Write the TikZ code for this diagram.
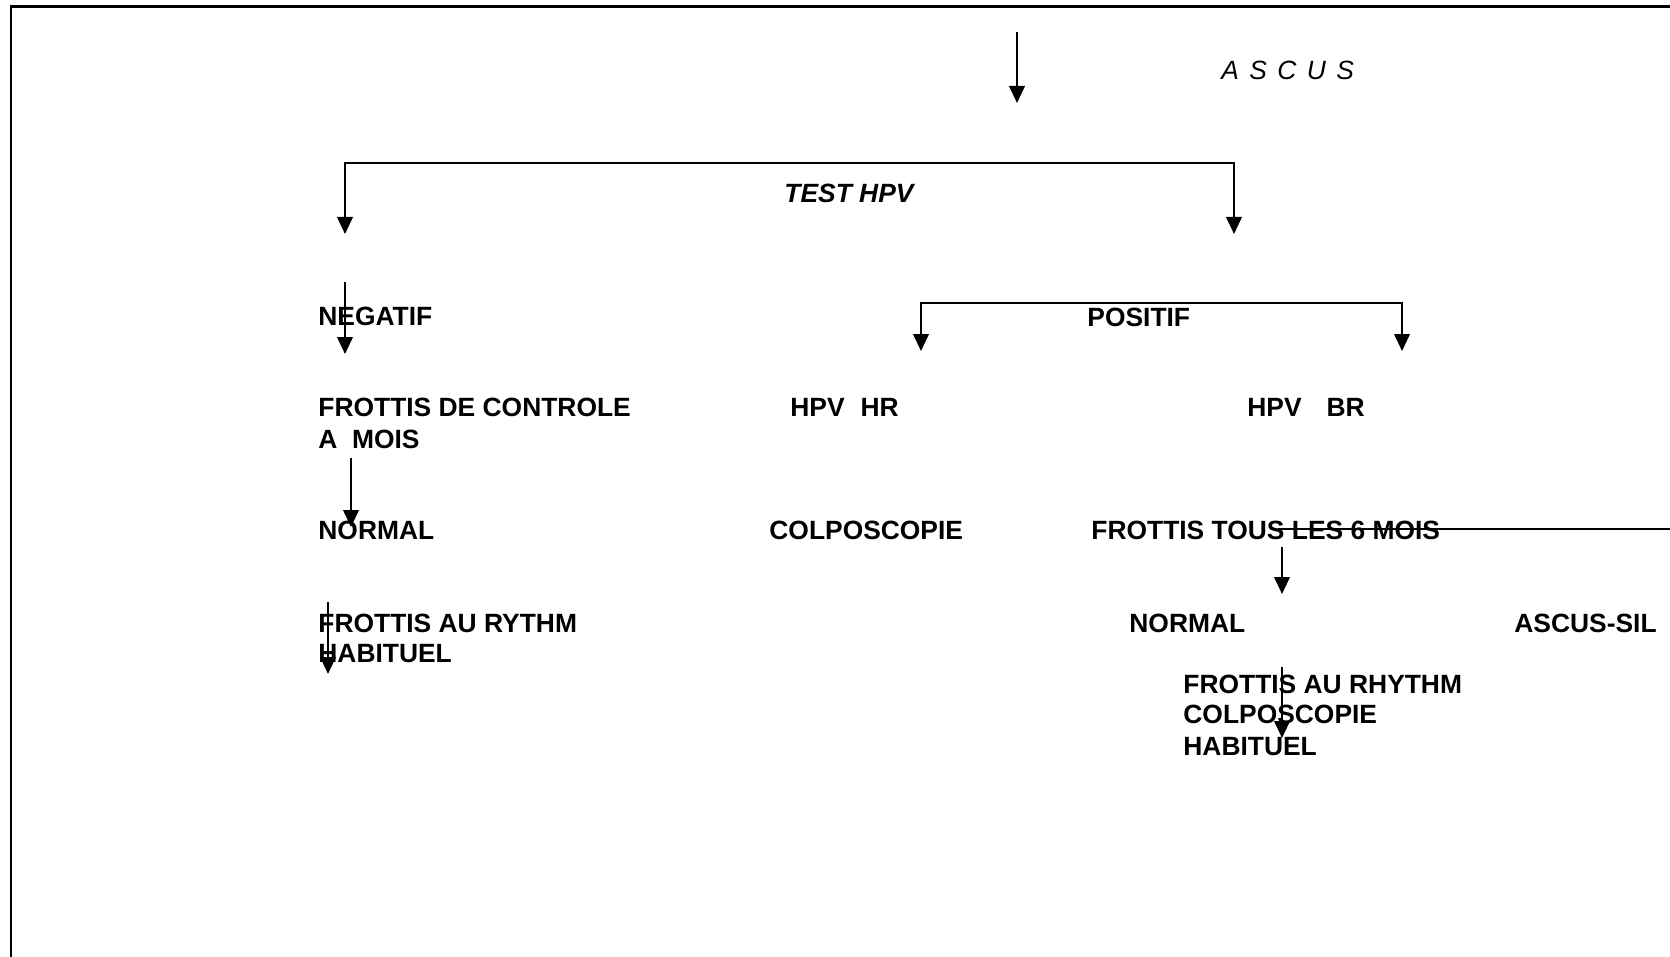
\documentclass[tikz,border=0pt]{standalone}
\usepackage{fontspec}
\setmainfont{Liberation Sans}
\usetikzlibrary{arrows.meta}
\tikzset{
  lbl/.style={inner sep=0pt, anchor=base west, font=\fontsize{13.2}{15.5}\selectfont\bfseries},
  ilbl/.style={inner sep=0pt, anchor=base west, font=\fontsize{13.2}{15.5}\selectfont\bfseries\itshape},
  rlbl/.style={inner sep=0pt, anchor=base west, font=\fontsize{13.2}{15.5}\selectfont\itshape},
  conn/.style={line width=1pt, -{Triangle[width=7.8pt,length=8.5pt]}},
  brk/.style={line width=1pt, {Triangle[width=7.8pt,length=8.5pt]}-{Triangle[width=7.8pt,length=8.5pt]}},
  plain/.style={line width=1pt},
  frame/.style={line width=1.2pt}
}
\begin{document}
\begin{tikzpicture}[x=0.5pt,y=-0.5pt]
\useasboundingbox (0,0) rectangle (1670,957);
% frame
\coordinate (fr1) at (1670,6.5);
\coordinate (fr2) at (11,6.5);
\coordinate (fr3) at (11,957);
\draw[frame] (fr1) -- (fr2) -- (fr3);

% texts
\node[rlbl] (ascus) at (1221,80) {\spaceskip=5.2pt\relax A S C U S};
\node[ilbl] (test) at (784,203) {TEST HPV};
\node[lbl] (neg) at (318,325) {NEGATIF};
\node[lbl] (pos) at (1087,326) {POSITIF};
\node[lbl] (ctrl1) at (318,416) {FROTTIS DE CONTROLE};
\node[lbl] (ctrl2) at (318,448) {A\ \ MOIS};
\node[lbl] (hr) at (790,416) {HPV\hspace{8pt}HR};
\node[lbl] (br) at (1247,416) {HPV\hspace{12.5pt}BR};
\node[lbl] (norm1) at (318,539) {NORMAL};
\node[lbl] (colpo1) at (769,539) {COLPOSCOPIE};
\node[lbl] (tous) at (1091,539) {FROTTIS TOUS LES 6 MOIS};
\node[lbl] (ryt1) at (318,632) {FROTTIS AU RYTHM};
\node[lbl] (ryt2) at (318,662) {HABITUEL};
\node[lbl] (norm2) at (1129,632) {NORMAL};
\node[lbl] (sil) at (1514,632) {ASCUS-SIL};
\node[lbl] (rh1) at (1183,693) {FROTTIS AU RHYTHM};
\node[lbl] (rh2) at (1183,723) {COLPOSCOPIE};
\node[lbl] (rh3) at (1183,755) {HABITUEL};

% connector points
\coordinate (a0s) at (1017,32);
\coordinate (a0e) at (1017,103);
\coordinate (b1l) at (345,234);
\coordinate (b1a) at (345,163);
\coordinate (b1b) at (1234,163);
\coordinate (b1r) at (1234,234);
\coordinate (a1s) at (345,282);
\coordinate (a1e) at (345,354);
\coordinate (b2l) at (921,351);
\coordinate (b2a) at (921,303);
\coordinate (b2b) at (1402,303);
\coordinate (b2r) at (1402,351);
\coordinate (a2s) at (351,458);
\coordinate (a2e) at (351,527);
\coordinate (ls) at (1278,529);
\coordinate (le) at (1670,529);
\coordinate (a3s) at (1282,547);
\coordinate (a3e) at (1282,594);
\coordinate (a4s) at (328,602);
\coordinate (a4e) at (328,674);
\coordinate (a5s) at (1282,667);
\coordinate (a5e) at (1282,738);

\draw[conn] (a0s) -- (a0e);
\draw[brk] (b1l) -- (b1a) -- (b1b) -- (b1r);
\draw[conn] (a1s) -- (a1e);
\draw[brk] (b2l) -- (b2a) -- (b2b) -- (b2r);
\draw[conn] (a2s) -- (a2e);
\draw[plain] (ls) -- (le);
\draw[conn] (a3s) -- (a3e);
\draw[conn] (a4s) -- (a4e);
\draw[conn] (a5s) -- (a5e);
\end{tikzpicture}
\end{document}
